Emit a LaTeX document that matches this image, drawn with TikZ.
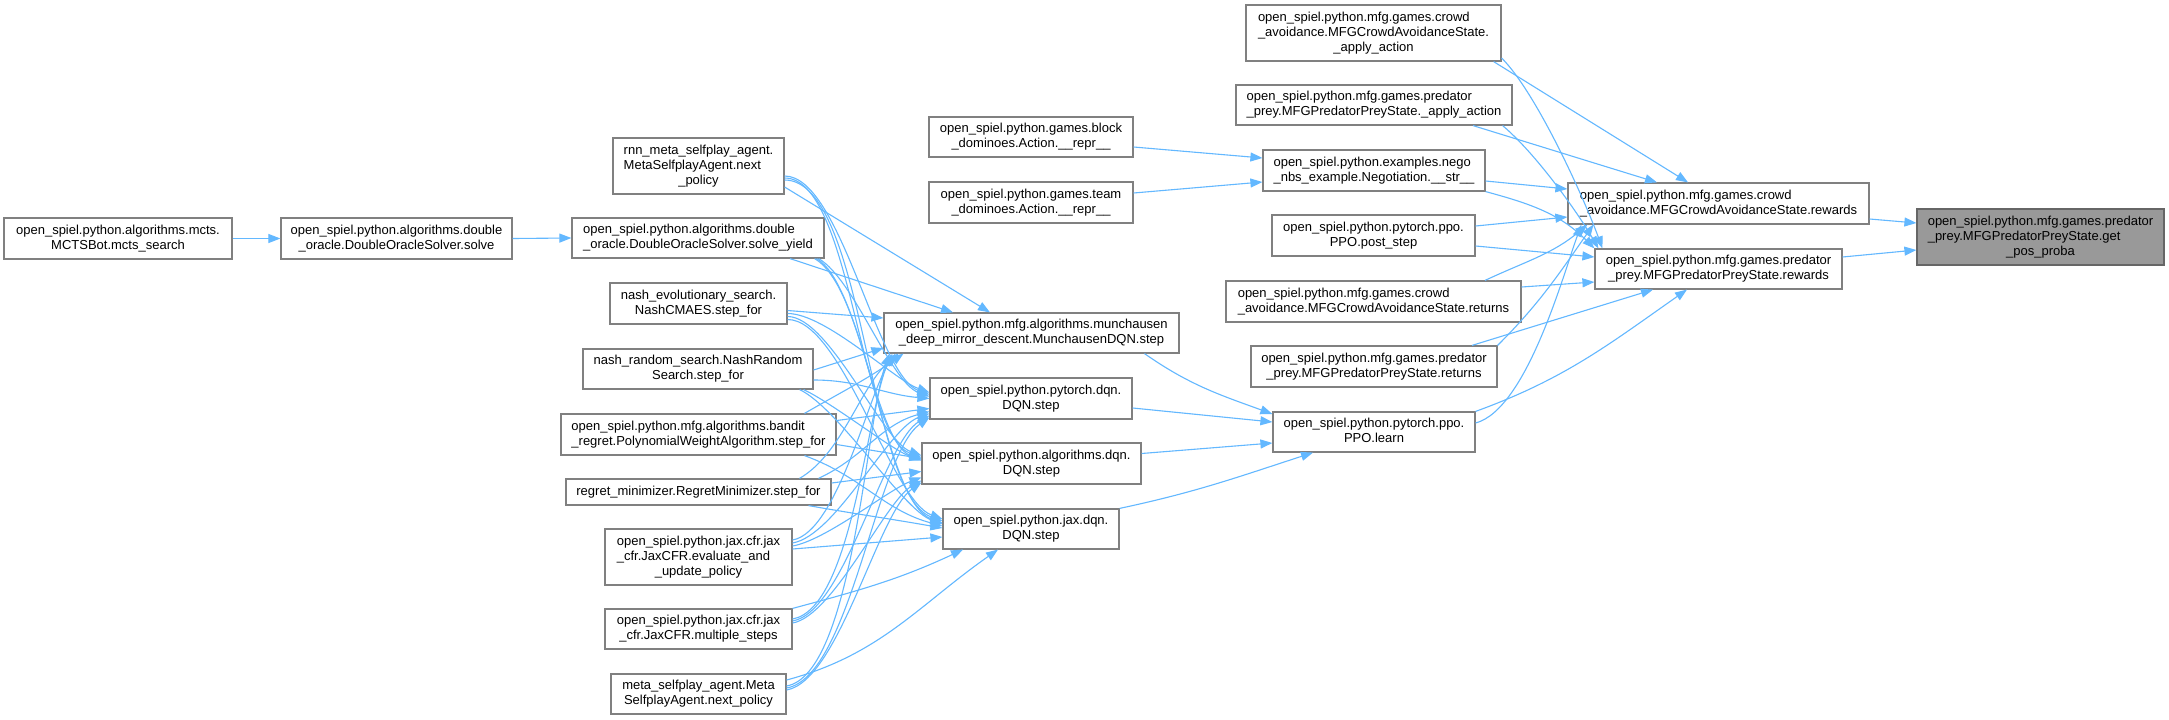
\documentclass[tikz,border=0pt]{standalone}
\usepackage{fontspec}
\setmainfont{Liberation Sans}
\usetikzlibrary{arrows.meta}
\definecolor{edgec}{HTML}{63B8FF}
\definecolor{bordc}{HTML}{808080}
\definecolor{targc}{HTML}{999999}
\newcommand{\LL}[2]{\begin{tabular}{@{}l@{}}#1\\\multicolumn{1}{@{}c@{}}{#2}\end{tabular}}
\begin{document}
\begin{tikzpicture}[x=1pt,y=1pt,
  nbox/.style={draw=bordc, line width=1.2pt, fill=white, inner sep=0pt, text=black,
    font=\fontsize{13}{15}\selectfont},
  tbox/.style={nbox, fill=targc, draw=black!60},
  conn/.style={draw=edgec, line width=1.1pt, -{Triangle[length=12pt,width=9pt]}}]
\fill[white] (0,0) rectangle (2169,-720);
\useasboundingbox (0,0) rectangle (2169,-720);

% ---- nodes ----
\node[nbox,minimum width=228pt,minimum height=41pt] (mcts) at (118,-238.5) {\LL{open\_spiel.python.algorithms.mcts.}{MCTSBot.mcts\_search}};
\node[nbox,minimum width=231pt,minimum height=41pt] (solve) at (396.5,-238.5) {\LL{open\_spiel.python.algorithms.double}{\_oracle.DoubleOracleSolver.solve}};
\node[nbox,minimum width=171pt,minimum height=56pt] (rnn) at (698.5,-166) {\LL{rnn\_meta\_selfplay\_agent.\\MetaSelfplayAgent.next}{\_policy}};
\node[nbox,minimum width=252pt,minimum height=40pt] (syield) at (698,-238) {\LL{open\_spiel.python.algorithms.double}{\_oracle.DoubleOracleSolver.solve\_yield}};
\node[nbox,minimum width=177pt,minimum height=41pt] (nashevo) at (698.5,-303.5) {\LL{nash\_evolutionary\_search.}{NashCMAES.step\_for}};
\node[nbox,minimum width=230pt,minimum height=40pt] (nashrand) at (698,-369) {\LL{nash\_random\_search.NashRandom}{Search.step\_for}};
\node[nbox,minimum width=275pt,minimum height=41pt] (bandit) at (698.5,-434.5) {\LL{open\_spiel.python.mfg.algorithms.bandit}{\_regret.PolynomialWeightAlgorithm.step\_for}};
\node[nbox,minimum width=265pt,minimum height=26pt] (regret) at (698.5,-492) {regret\_minimizer.RegretMinimizer.step\_for};
\node[nbox,minimum width=187pt,minimum height=56pt] (jaxeval) at (698.5,-557) {\LL{open\_spiel.python.jax.cfr.jax\\\_cfr.JaxCFR.evaluate\_and}{\_update\_policy}};
\node[nbox,minimum width=187pt,minimum height=40pt] (jaxmulti) at (698.5,-629) {\LL{open\_spiel.python.jax.cfr.jax}{\_cfr.JaxCFR.multiple\_steps}};
\node[nbox,minimum width=175pt,minimum height=40pt] (metasp) at (698.5,-694) {\LL{meta\_selfplay\_agent.Meta}{SelfplayAgent.next\_policy}};

\node[nbox,minimum width=295pt,minimum height=40pt] (munch) at (1031.5,-333) {\LL{open\_spiel.python.mfg.algorithms.munchausen}{\_deep\_mirror\_descent.MunchausenDQN.step}};
\node[nbox,minimum width=202pt,minimum height=41pt] (ptdqn) at (1031,-398.5) {\LL{open\_spiel.python.pytorch.dqn.}{DQN.step}};
\node[nbox,minimum width=219pt,minimum height=41pt] (algdqn) at (1031.5,-463.5) {\LL{open\_spiel.python.algorithms.dqn.}{DQN.step}};
\node[nbox,minimum width=176pt,minimum height=40pt] (jaxdqn) at (1031,-529) {\LL{open\_spiel.python.jax.dqn.}{DQN.step}};
\node[nbox,minimum width=204pt,minimum height=40pt] (block) at (1031,-137) {\LL{open\_spiel.python.games.block}{\_dominoes.Action.\_\_repr\_\_}};
\node[nbox,minimum width=204pt,minimum height=41pt] (team) at (1031,-202.5) {\LL{open\_spiel.python.games.team}{\_dominoes.Action.\_\_repr\_\_}};

\node[nbox,minimum width=255pt,minimum height=56pt] (crowdapply) at (1373.5,-33) {\LL{open\_spiel.python.mfg.games.crowd\\\_avoidance.MFGCrowdAvoidanceState.}{\_apply\_action}};
\node[nbox,minimum width=276pt,minimum height=40pt] (predapply) at (1374,-105) {\LL{open\_spiel.python.mfg.games.predator}{\_prey.MFGPredatorPreyState.\_apply\_action}};
\node[nbox,minimum width=222pt,minimum height=41pt] (nego) at (1374,-170.5) {\LL{open\_spiel.python.examples.nego}{\_nbs\_example.Negotiation.\_\_str\_\_}};
\node[nbox,minimum width=203pt,minimum height=41pt] (poststep) at (1373.5,-235.5) {\LL{open\_spiel.python.pytorch.ppo.}{PPO.post\_step}};
\node[nbox,minimum width=295pt,minimum height=41pt] (crowdret) at (1373.5,-301.5) {\LL{open\_spiel.python.mfg.games.crowd}{\_avoidance.MFGCrowdAvoidanceState.returns}};
\node[nbox,minimum width=246pt,minimum height=41pt] (predret) at (1374,-366.5) {\LL{open\_spiel.python.mfg.games.predator}{\_prey.MFGPredatorPreyState.returns}};
\node[nbox,minimum width=202pt,minimum height=40pt] (ppolearn) at (1374,-432) {\LL{open\_spiel.python.pytorch.ppo.}{PPO.learn}};

\node[nbox,minimum width=301pt,minimum height=41pt] (crowdrew) at (1718.5,-203.5) {\LL{open\_spiel.python.mfg.games.crowd}{\_avoidance.MFGCrowdAvoidanceState.rewards}};
\node[nbox,minimum width=247pt,minimum height=40pt] (predrew) at (1718.5,-269) {\LL{open\_spiel.python.mfg.games.predator}{\_prey.MFGPredatorPreyState.rewards}};
\node[tbox,minimum width=247pt,minimum height=56pt] (target) at (2040.5,-237) {\LL{open\_spiel.python.mfg.games.predator\\\_prey.MFGPredatorPreyState.get}{\_pos\_proba}};

% ---- left chain ----
\draw[conn] (mcts.east) -- (solve.west);
\draw[conn] (solve.east) -- (syield.west);

% ---- rnn ----
\draw[conn] ([yshift=-21pt]rnn.east) -- ([xshift=-41.5pt]munch.north);
\draw[conn] ([yshift=-10pt]rnn.east) to[out=0,in=160,looseness=0.55] ([yshift=4pt]ptdqn.west);
\draw[conn] ([yshift=-12pt]rnn.east) to[out=0,in=160,looseness=0.55] ([yshift=6pt]algdqn.west);
\draw[conn] ([yshift=-14pt]rnn.east) to[out=0,in=160,looseness=0.55] ([yshift=8pt]jaxdqn.west);
% ---- solve_yield ----
\draw[conn] ([xshift=92pt]syield.south) -- ([xshift=-78.5pt]munch.north);
\draw[conn] ([xshift=-6pt]syield.south east) to[out=-30,in=160,looseness=0.6] ([yshift=2pt]ptdqn.west);
\draw[conn] ([xshift=-8pt]syield.south east) to[out=-30,in=160,looseness=0.55] ([yshift=4pt]algdqn.west);
\draw[conn] ([xshift=-10pt]syield.south east) to[out=-30,in=160,looseness=0.55] ([yshift=6pt]jaxdqn.west);
% ---- nash evo ----
\draw[conn] ([yshift=-7pt]nashevo.east) -- ([yshift=15pt]munch.west);
\draw[conn] ([yshift=-10pt]nashevo.east) to[out=0,in=160,looseness=0.6] ([yshift=6pt]ptdqn.west);
\draw[conn] ([yshift=-13pt]nashevo.east) to[out=0,in=160,looseness=0.55] ([yshift=8pt]algdqn.west);
\draw[conn] ([yshift=-16pt]nashevo.east) to[out=0,in=160,looseness=0.55] ([yshift=10pt]jaxdqn.west);
% ---- nash random ----
\draw[conn] ([yshift=-1pt]nashrand.east) -- ([yshift=-15pt]munch.west);
\draw[conn] ([yshift=-11pt]nashrand.east) to[out=0,in=175] (ptdqn.west);
\draw[conn] ([xshift=-10pt]nashrand.south east) to[out=-25,in=160,looseness=0.6] ([yshift=3pt]algdqn.west);
\draw[conn] ([xshift=-14pt]nashrand.south east) to[out=-25,in=160,looseness=0.55] ([yshift=5pt]jaxdqn.west);
% ---- bandit ----
\draw[conn] ([xshift=106pt]bandit.north) to[out=30,in=215] ([xshift=-128pt]munch.south);
\draw[conn] ([yshift=14pt]bandit.east) -- ([yshift=-10pt]ptdqn.west);
\draw[conn] ([yshift=-10pt]bandit.east) -- ([yshift=5pt]algdqn.west);
\draw[conn] ([xshift=106pt]bandit.south) to[out=-20,in=165] ([yshift=3pt]jaxdqn.west);
% ---- regret ----
\draw[conn] ([xshift=101pt]regret.north) to[out=30,in=220,looseness=0.8] ([xshift=-133pt]munch.south);
\draw[conn] ([xshift=120pt]regret.north) to[out=25,in=195] ([yshift=-13pt]ptdqn.west);
\draw[conn] ([yshift=9pt]regret.east) -- ([yshift=-8pt]algdqn.west);
\draw[conn] ([xshift=110pt]regret.south) to[out=-10,in=170] ([yshift=1pt]jaxdqn.west);
% ---- jax evaluate ----
\draw[conn] ([yshift=17pt]jaxeval.east) to[out=10,in=235,looseness=0.55] ([xshift=-136pt]munch.south);
\draw[conn] ([yshift=14pt]jaxeval.east) to[out=10,in=200,looseness=0.6] ([yshift=-15pt]ptdqn.west);
\draw[conn] ([yshift=11pt]jaxeval.east) to[out=10,in=200,looseness=0.6] ([yshift=-14pt]algdqn.west);
\draw[conn] ([yshift=8pt]jaxeval.east) -- ([yshift=-8pt]jaxdqn.west);
% ---- jax multiple ----
\draw[conn] ([yshift=10pt]jaxmulti.east) to[out=10,in=245,looseness=0.55] ([xshift=-139pt]munch.south);
\draw[conn] ([yshift=8pt]jaxmulti.east) to[out=10,in=210,looseness=0.55] ([yshift=-17pt]ptdqn.west);
\draw[conn] ([yshift=6pt]jaxmulti.east) to[out=10,in=210,looseness=0.55] ([yshift=-17pt]algdqn.west);
\draw[conn] (jaxmulti.north east) to[out=15,in=205] ([xshift=-68pt]jaxdqn.south);
% ---- meta selfplay ----
\draw[conn] ([yshift=8pt]metasp.east) to[out=10,in=250,looseness=0.5] ([xshift=-142pt]munch.south);
\draw[conn] ([yshift=6pt]metasp.east) to[out=10,in=215,looseness=0.55] ([yshift=-19pt]ptdqn.west);
\draw[conn] ([yshift=4pt]metasp.east) to[out=10,in=215,looseness=0.55] ([yshift=-19pt]algdqn.west);
\draw[conn] ([yshift=14pt]metasp.east) to[out=15,in=215] ([xshift=-33pt]jaxdqn.south);

% ---- into PPO.learn ----
\draw[conn] ([xshift=113pt]munch.south) to[out=-35,in=160] ([yshift=18pt]ppolearn.west);
\draw[conn] ([yshift=-9.5pt]ptdqn.east) -- ([yshift=10pt]ppolearn.west);
\draw[conn] ([yshift=10pt]algdqn.east) -- ([yshift=-11pt]ppolearn.west);
\draw[conn] (jaxdqn.north east) to[out=12,in=198] ([xshift=-61pt]ppolearn.south);

% ---- dominoes -> nego ----
\draw[conn] ([yshift=-10pt]block.east) -- ([yshift=12.5pt]nego.west);
\draw[conn] ([yshift=9.5pt]team.east) -- ([yshift=-11.5pt]nego.west);

% ---- into rewards ----
\draw[conn] ([xshift=-8pt]crowdapply.south east) -- ([xshift=-30.5pt]crowdrew.north);
\draw[conn] ([yshift=-25pt]crowdapply.east) to[out=-45,in=110,looseness=0.6] ([xshift=8pt]predrew.north west);
\draw[conn] ([xshift=99pt]predapply.south) -- ([xshift=-61.5pt]crowdrew.north);
\draw[conn] ([xshift=-10pt]predapply.south east) to[out=-40,in=120,looseness=0.7] ([xshift=4pt]predrew.north west);
\draw[conn] ([yshift=-10.5pt]nego.east) -- ([yshift=14.5pt]crowdrew.west);
\draw[conn] (nego.south east) to[out=-15,in=135] (predrew.north west);
\draw[conn] ([yshift=9.5pt]poststep.east) -- ([yshift=-13.5pt]crowdrew.west);
\draw[conn] ([yshift=-10.5pt]poststep.east) -- ([yshift=12pt]predrew.west);
\draw[conn] ([xshift=111.5pt]crowdret.north) to[out=25,in=220] ([xshift=20pt]crowdrew.south west);
\draw[conn] ([yshift=14.5pt]crowdret.east) -- ([yshift=-13pt]predrew.west);
\draw[conn] (predret.north east) to[out=45,in=235] ([xshift=26pt]crowdrew.south west);
\draw[conn] ([xshift=98pt]predret.north) -- ([xshift=-65.5pt]predrew.south);
\draw[conn] ([yshift=9pt]ppolearn.east) to[out=15,in=250,looseness=0.6] ([xshift=14pt]crowdrew.south west);
\draw[conn] (ppolearn.north east) to[out=20,in=215] ([xshift=-31.5pt]predrew.south);

% ---- into target ----
\draw[conn] ([yshift=-15.5pt]crowdrew.east) -- ([yshift=14pt]target.west);
\draw[conn] ([yshift=12pt]predrew.east) -- ([yshift=-13pt]target.west);
\end{tikzpicture}
\end{document}
